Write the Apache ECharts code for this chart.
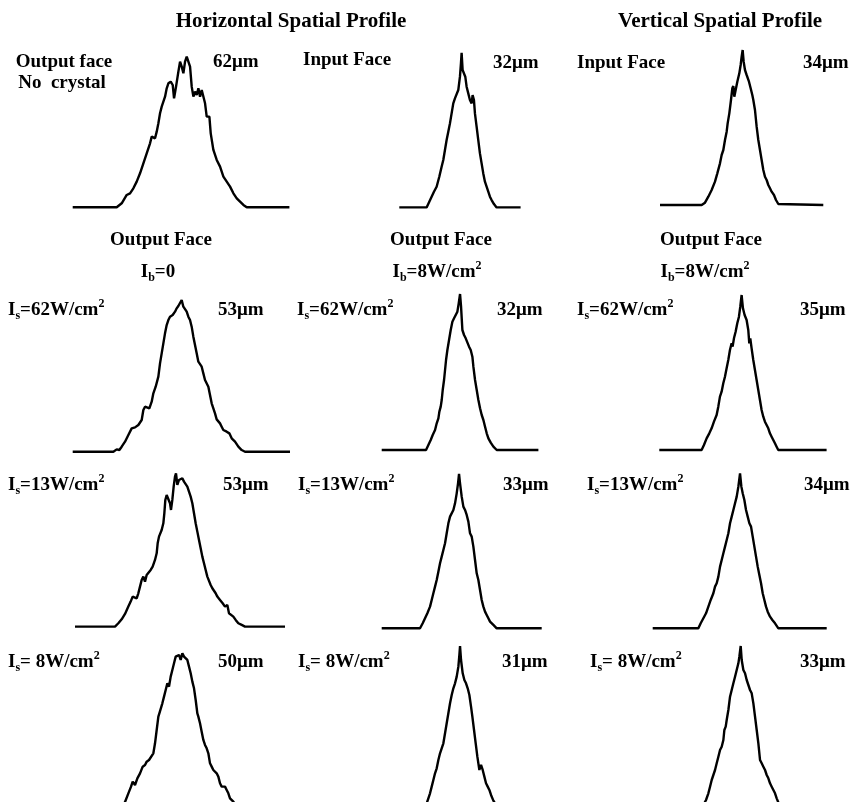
<!DOCTYPE html>
<html>
<head>
<meta charset="utf-8">
<script src="https://cdn.jsdelivr.net/npm/echarts@6/dist/echarts.min.js"></script>
<style>
html, body { margin: 0; padding: 0; background: #fff; overflow: hidden; }
#chart { width: 850px; height: 802px; }
</style>
</head>
<body>
<div id="chart"></div>
<script>
// beam profiles: [position, intensity] in arbitrary units
const hNoCrystal = [[0,0],[132,0],[147,12],[162,37],[172,42],[182,57],[192,77],[202,102],[212,132],[222,162],[232,192],[237,212],[242,217],[247,207],[252,227],[257,252],[262,282],[267,302],[272,307],[277,332],[282,357],[287,372],[294,377],[300,367],[304,327],[310,362],[317,407],[322,437],[327,422],[332,402],[337,437],[342,452],[347,457],[352,422],[357,362],[362,332],[367,347],[372,337],[377,357],[382,332],[387,352],[392,347],[397,312],[402,272],[410,272],[414,222],[422,172],[432,142],[442,122],[452,92],[462,77],[472,62],[482,42],[492,27],[502,17],[512,7],[522,0],[650,0]];
const hInput = [[0,0],[82,0],[90,17],[97,32],[104,47],[112,62],[120,92],[127,122],[132,142],[137,172],[142,202],[147,227],[152,252],[157,282],[162,312],[167,327],[172,332],[177,352],[182,392],[185,432],[187,464],[190,412],[194,417],[198,392],[202,362],[207,342],[212,322],[217,312],[220,337],[224,322],[227,282],[232,242],[237,202],[242,162],[247,132],[252,102],[257,77],[262,62],[267,47],[272,32],[277,22],[284,10],[292,0],[364,0]];
const vInput = [[0,0],[125,0],[135,7],[145,25],[155,45],[165,70],[172,95],[180,125],[185,150],[190,165],[195,195],[200,220],[203,245],[208,275],[213,315],[217,350],[220,357],[223,325],[227,345],[232,370],[238,395],[242,420],[245,445],[248,465],[251,430],[255,405],[260,390],[267,370],[272,350],[277,330],[280,315],[285,285],[290,235],[295,195],[300,165],[305,135],[310,105],[315,85],[320,75],[325,60],[330,50],[335,40],[342,30],[348,15],[355,3],[360,0],[490,0]];
const hIb0Is62 = [[0,0],[122,0],[132,7],[140,5],[147,15],[157,30],[167,50],[177,70],[187,73],[197,80],[207,95],[212,125],[217,135],[222,140],[230,130],[237,150],[242,175],[249,195],[257,225],[262,265],[267,295],[272,325],[277,355],[282,380],[287,395],[292,405],[300,410],[307,420],[312,430],[317,437],[322,440],[327,455],[332,435],[337,433],[342,420],[347,405],[352,395],[357,375],[362,345],[367,320],[372,295],[377,270],[382,265],[387,255],[392,235],[397,215],[402,210],[407,195],[412,170],[417,145],[422,130],[427,115],[432,97],[437,95],[442,85],[447,75],[452,65],[462,60],[470,55],[477,40],[487,30],[497,15],[507,5],[517,0],[652,0]];
const hIb8Is62 = [[0,0],[133,0],[140,15],[147,30],[153,45],[160,60],[165,80],[170,95],[173,115],[177,130],[180,150],[183,180],[187,210],[190,240],[193,270],[197,300],[202,330],[207,360],[212,385],[217,395],[222,405],[227,415],[231,440],[235,468],[238,430],[242,360],[247,345],[252,335],[257,330],[262,310],[267,300],[272,280],[275,250],[280,210],[285,180],[290,150],[295,125],[300,105],[305,90],[310,70],[315,50],[320,35],[327,22],[335,10],[345,0],[470,0]];
const vIb8Is62 = [[0,0],[127,0],[134,15],[142,35],[150,50],[157,65],[164,85],[172,105],[177,130],[182,160],[187,175],[192,200],[197,220],[202,245],[207,270],[212,300],[217,320],[220,310],[224,335],[229,355],[234,380],[239,400],[243,430],[247,465],[251,425],[256,405],[262,390],[267,360],[270,320],[273,335],[277,305],[282,270],[287,240],[292,210],[297,180],[302,150],[307,120],[312,100],[317,85],[322,75],[327,65],[332,50],[337,40],[342,30],[347,20],[352,10],[357,0],[502,0]];
const hIb0Is13 = [[0,0],[120,0],[130,10],[140,22],[150,38],[160,60],[167,75],[173,90],[178,95],[185,85],[190,100],[195,120],[200,140],[205,150],[210,135],[215,155],[220,160],[227,170],[233,180],[240,200],[245,220],[248,250],[252,270],[255,275],[260,290],[265,310],[268,340],[271,380],[275,395],[280,390],[285,370],[288,350],[292,380],[296,420],[300,450],[303,460],[307,425],[312,440],[317,435],[322,445],[327,435],[332,430],[337,420],[342,405],[347,390],[352,370],[357,340],[362,310],[367,285],[372,260],[377,235],[382,210],[387,190],[392,170],[397,150],[402,145],[407,125],[412,115],[417,110],[422,100],[427,90],[435,80],[443,70],[450,60],[457,65],[462,40],[468,45],[475,30],[482,20],[490,10],[500,5],[510,0],[630,0]];
const hIb8Is13 = [[0,0],[115,0],[123,15],[130,30],[137,45],[145,65],[150,85],[155,105],[160,125],[165,145],[170,170],[175,195],[180,215],[185,235],[190,255],[195,285],[200,315],[205,335],[210,340],[215,355],[220,375],[225,405],[229,435],[232,463],[235,435],[240,395],[245,365],[250,355],[255,340],[260,320],[265,285],[270,275],[275,245],[280,205],[285,165],[290,145],[295,115],[300,85],[305,65],[310,50],[315,40],[320,30],[325,20],[335,10],[345,0],[480,0]];
const vIb8Is13 = [[0,0],[137,0],[144,15],[152,30],[160,45],[167,65],[174,85],[182,105],[187,125],[192,135],[197,155],[202,185],[207,205],[212,225],[217,245],[222,265],[227,285],[232,315],[237,335],[242,355],[247,375],[252,395],[257,425],[262,465],[266,425],[270,405],[275,385],[280,355],[285,335],[290,315],[295,305],[300,275],[305,245],[310,215],[315,185],[320,160],[325,135],[330,105],[335,85],[340,65],[345,50],[352,35],[359,25],[367,15],[377,0],[522,0]];
const hIb0Is8 = [[0,0],[122,0],[142,15],[157,39],[167,65],[175,85],[180,100],[187,90],[194,110],[202,125],[210,145],[217,150],[222,160],[229,165],[235,170],[242,185],[247,215],[252,255],[257,295],[260,305],[264,300],[269,335],[274,355],[279,375],[284,395],[289,385],[294,415],[299,435],[304,455],[309,475],[314,470],[319,480],[324,465],[329,485],[334,475],[339,480],[344,465],[349,445],[354,425],[359,400],[364,380],[369,345],[374,305],[377,295],[382,275],[387,250],[392,225],[397,210],[402,200],[407,185],[412,155],[417,145],[422,135],[427,130],[432,125],[437,115],[442,95],[447,85],[452,90],[457,85],[462,75],[467,65],[472,50],[482,40],[492,25],[507,10],[522,0],[652,0]];
const hIb8Is8 = [[0,0],[135,0],[140,15],[145,30],[150,50],[155,70],[160,90],[165,105],[170,130],[175,150],[180,165],[185,180],[190,210],[195,240],[200,270],[205,300],[210,325],[215,345],[220,360],[225,380],[230,410],[233,445],[235,472],[238,430],[243,390],[248,370],[253,360],[258,345],[263,325],[268,290],[272,260],[277,220],[282,180],[287,140],[290,120],[293,100],[298,115],[303,100],[308,80],[313,60],[318,50],[323,40],[328,25],[335,8],[340,0],[480,0]];
const vIb8Is8 = [[0,0],[152,0],[160,15],[167,35],[172,55],[177,75],[182,90],[187,105],[192,125],[197,145],[202,165],[207,175],[212,195],[215,225],[219,235],[222,255],[227,285],[232,325],[237,345],[242,365],[247,385],[252,405],[257,425],[260,445],[264,477],[267,435],[272,405],[277,395],[282,375],[287,360],[292,345],[297,335],[302,305],[307,265],[312,225],[317,185],[322,135],[327,125],[332,115],[337,105],[342,90],[347,80],[352,65],[357,55],[362,45],[367,35],[372,20],[380,0],[522,0]];

const profiles = [hNoCrystal, hInput, vInput, hIb0Is62, hIb8Is62, vIb8Is62, hIb0Is13, hIb8Is13, vIb8Is13, hIb0Is8, hIb8Is8, vIb8Is8];
const beamWidths = ['62μm', '32μm', '34μm', '53μm', '32μm', '35μm', '53μm', '33μm', '34μm', '50μm', '31μm', '33μm'];
const signalLabels = ['{m|I}{s|s}{m|=62W/cm}{p|2}', '{m|I}{s|s}{m|=13W/cm}{p|2}', '{m|I}{s|s}{m|= 8W/cm}{p|2}'];
const backgroundLabels = ['{m|I}{s|b}{m|=0}', '{m|I}{s|b}{m|=8W/cm}{p|2}', '{m|I}{s|b}{m|=8W/cm}{p|2}'];

// panel boxes: left, top (peak), width, height (baseline - peak)
const panels = [
    [72.7, 55, 216.7, 152.3], [399.3, 52.7, 121.3, 154.7], [660, 50, 163.3, 155],
    [72.7, 300, 217.3, 151.7], [381.7, 294, 156.7, 156], [659.3, 295, 167.3, 155],
    [75, 473.3, 210, 153.3], [381.7, 474, 160, 154.3], [652.7, 473.3, 174, 155],
    [72.7, 653.3, 217.3, 161.7], [381.7, 646, 160, 157.3], [652.7, 646, 174, 159]
];
const widthPos = [[213, 62], [493, 63], [803, 63], [218, 310], [497, 310], [800, 310], [223, 485], [503, 485], [804, 485], [218, 662], [502, 662], [800, 662]];
const signalPos = [[8, 310], [297, 310], [577, 310], [8, 485], [298, 485], [587, 485], [8, 662], [298, 662], [590, 662]];

const FONT = '"Liberation Serif", "Times New Roman", serif';
const rich = {
    m: { fontFamily: FONT, fontWeight: 'bold', fontSize: 19, lineHeight: 24, verticalAlign: 'middle', fill: '#000' },
    s: { fontFamily: FONT, fontWeight: 'bold', fontSize: 12, verticalAlign: 'bottom', fill: '#000' },
    p: { fontFamily: FONT, fontWeight: 'bold', fontSize: 12, verticalAlign: 'top', fill: '#000' }
};

function label(text, x, y, align, size) {
    return {
        type: 'text', x: x, y: y,
        style: {
            text: text, fill: '#000', textAlign: align || 'left', textVerticalAlign: 'middle',
            font: 'bold ' + (size || 19) + 'px ' + FONT
        }
    };
}
function richLabel(text, x, y, align) {
    return {
        type: 'text', x: x, y: y,
        style: { text: text, rich: rich, textAlign: align || 'left', textVerticalAlign: 'middle' }
    };
}

const graphics = [
    label('Horizontal Spatial Profile', 291, 22, 'center', 21),
    label('Vertical Spatial Profile', 720, 22, 'center', 21),
    label('Output face', 64, 62, 'center'),
    label('No  crystal', 62, 83, 'center'),
    label('Input Face', 303, 60),
    label('Input Face', 577, 63),
    label('Output Face', 161, 240, 'center'),
    label('Output Face', 441, 240, 'center'),
    label('Output Face', 711, 240, 'center')
];
[158, 437, 705].forEach((x, i) => graphics.push(richLabel(backgroundLabels[i], x, 272, 'center')));
signalPos.forEach((p, i) => graphics.push(richLabel(signalLabels[Math.floor(i / 3)], p[0], p[1])));
widthPos.forEach((p, i) => graphics.push(label(beamWidths[i], p[0], p[1])));

const chart = echarts.init(document.getElementById('chart'));
chart.setOption({
    animation: false,
    backgroundColor: '#fff',
    grid: panels.map(b => ({ left: b[0], top: b[1], width: b[2], height: b[3], outerBoundsMode: 'none' })),
    xAxis: profiles.map((d, i) => ({
        type: 'value', gridIndex: i, min: 0, max: d[d.length - 1][0], show: false
    })),
    yAxis: profiles.map((d, i) => ({
        type: 'value', gridIndex: i, min: 0, max: Math.max(...d.map(p => p[1])), show: false
    })),
    series: profiles.map((d, i) => ({
        type: 'line', xAxisIndex: i, yAxisIndex: i, data: d,
        showSymbol: false, silent: true, clip: false,
        lineStyle: { color: '#000', width: 2.4 }
    })),
    graphic: graphics
});
</script>
</body>
</html>
